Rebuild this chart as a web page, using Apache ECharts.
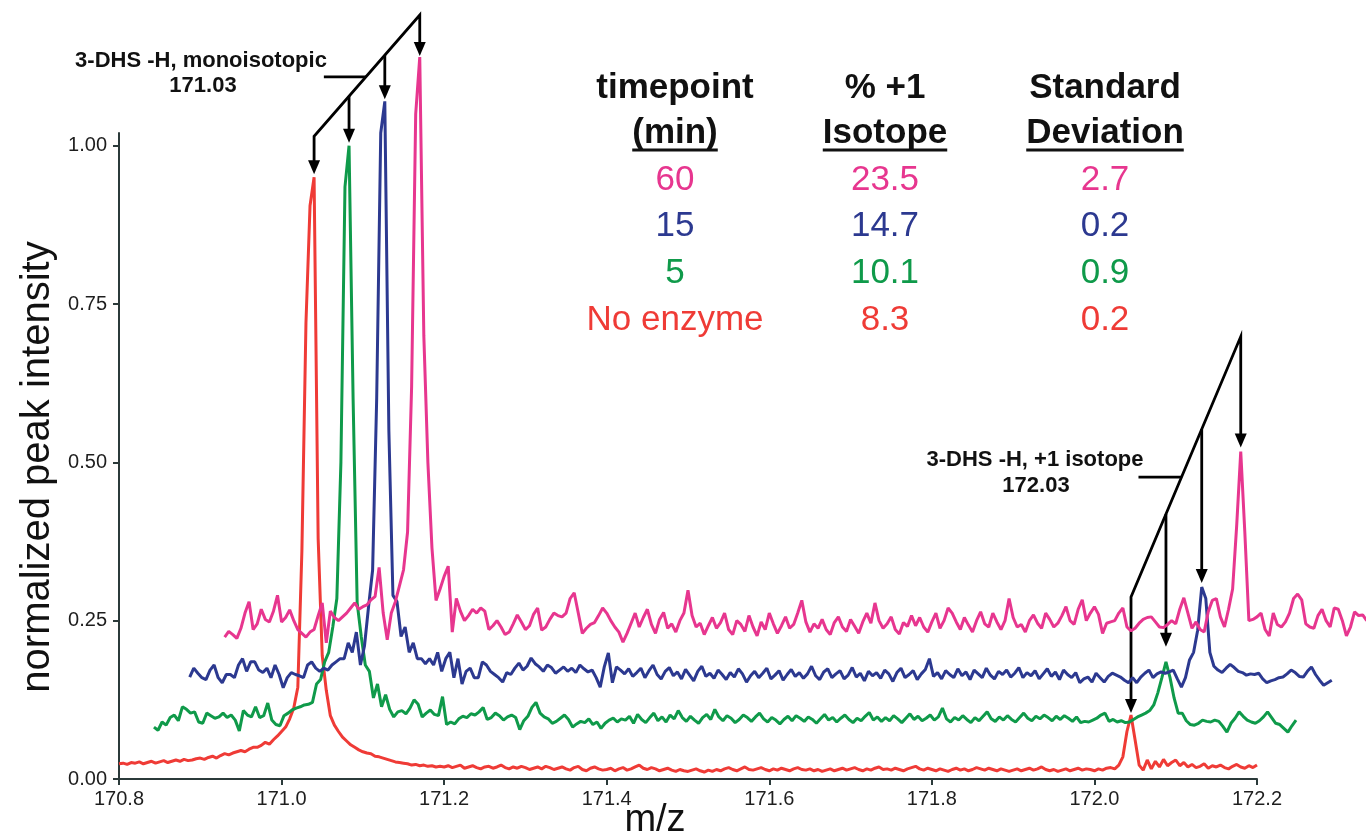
<!DOCTYPE html>
<html>
<head>
<meta charset="utf-8">
<title>3-DHS -H isotope distribution</title>
<script src="https://cdn.jsdelivr.net/npm/echarts@6.0.0/dist/echarts.min.js"></script>
<style>
  html, body { margin: 0; padding: 0; background: #fff; }
  #chart { width: 1366px; height: 840px; }
</style>
</head>
<body>
<div id="chart"></div>
<script>
// every spectrum is sampled on the same m/z step, each trace starts at its own offset
var STEP = 0.005;
var redStart = 170.800, greenStart = 170.843, blueStart = 170.887, pinkStart = 170.930;

// No enzyme
var redY = [
  0.024,0.025,0.023,0.026,0.025,0.027,0.024,0.026,0.028,0.025,
  0.027,0.029,0.026,0.028,0.030,0.028,0.031,0.029,0.030,0.032,
  0.033,0.031,0.034,0.036,0.033,0.037,0.040,0.038,0.041,0.043,
  0.045,0.043,0.047,0.050,0.050,0.053,0.058,0.055,0.062,0.068,
  0.075,0.082,0.095,0.112,0.145,0.360,0.720,0.905,0.950,0.380,
  0.195,0.140,0.100,0.085,0.075,0.066,0.060,0.054,0.050,0.046,
  0.043,0.041,0.040,0.036,0.035,0.033,0.031,0.029,0.027,0.026,
  0.025,0.024,0.022,0.023,0.021,0.022,0.020,0.021,0.019,0.020,
  0.019,0.021,0.018,0.020,0.022,0.017,0.019,0.021,0.018,0.016,
  0.019,0.020,0.017,0.019,0.022,0.018,0.016,0.019,0.017,0.020,
  0.018,0.015,0.017,0.019,0.016,0.020,0.018,0.015,0.017,0.019,
  0.016,0.014,0.018,0.020,0.015,0.013,0.017,0.019,0.016,0.014,
  0.015,0.017,0.013,0.016,0.018,0.014,0.016,0.019,0.022,0.017,
  0.015,0.018,0.016,0.013,0.015,0.017,0.014,0.012,0.015,0.013,
  0.012,0.014,0.016,0.013,0.011,0.014,0.012,0.015,0.013,0.016,
  0.018,0.015,0.013,0.016,0.019,0.015,0.014,0.016,0.018,0.015,
  0.013,0.016,0.014,0.017,0.015,0.013,0.016,0.018,0.015,0.014,
  0.016,0.013,0.015,0.012,0.014,0.016,0.013,0.015,0.017,0.014,
  0.016,0.018,0.015,0.013,0.016,0.014,0.017,0.019,0.015,0.016,
  0.014,0.017,0.015,0.013,0.016,0.018,0.020,0.016,0.014,0.017,
  0.015,0.013,0.016,0.014,0.012,0.015,0.017,0.014,0.016,0.013,
  0.015,0.018,0.016,0.014,0.017,0.015,0.013,0.016,0.014,0.012,
  0.014,0.016,0.013,0.015,0.017,0.014,0.016,0.019,0.015,0.013,
  0.015,0.012,0.014,0.016,0.013,0.015,0.017,0.014,0.016,0.015,
  0.013,0.016,0.014,0.017,0.018,0.016,0.022,0.035,0.075,0.101,
  0.062,0.022,0.014,0.030,0.016,0.028,0.019,0.031,0.021,0.026,
  0.030,0.021,0.026,0.019,0.023,0.018,0.020,0.024,0.017,0.021,
  0.019,0.022,0.018,0.016,0.020,0.023,0.019,0.017,0.021,0.018,
  0.022
];

// 5 min
var greenY = [
  0.082,0.077,0.090,0.085,0.097,0.101,0.092,0.114,0.110,0.104,
  0.106,0.090,0.088,0.104,0.100,0.096,0.098,0.104,0.097,0.101,
  0.093,0.076,0.108,0.101,0.098,0.114,0.097,0.100,0.120,0.093,
  0.086,0.084,0.100,0.104,0.109,0.112,0.114,0.117,0.118,0.121,
  0.150,0.157,0.185,0.200,0.240,0.285,0.500,0.935,1.000,0.600,
  0.278,0.225,0.180,0.170,0.128,0.150,0.114,0.133,0.110,0.098,
  0.106,0.108,0.103,0.112,0.125,0.118,0.098,0.104,0.109,0.102,
  0.100,0.130,0.086,0.090,0.087,0.095,0.099,0.097,0.103,0.101,
  0.106,0.113,0.094,0.097,0.104,0.100,0.093,0.098,0.101,0.097,
  0.078,0.092,0.099,0.113,0.121,0.104,0.098,0.095,0.088,0.091,
  0.096,0.101,0.094,0.082,0.087,0.091,0.089,0.095,0.086,0.090,
  0.080,0.088,0.093,0.096,0.090,0.095,0.093,0.099,0.088,0.102,
  0.094,0.089,0.097,0.104,0.092,0.098,0.090,0.101,0.095,0.108,
  0.097,0.091,0.099,0.093,0.088,0.097,0.102,0.094,0.110,0.098,
  0.092,0.100,0.096,0.089,0.094,0.101,0.097,0.091,0.098,0.104,
  0.095,0.090,0.097,0.093,0.087,0.094,0.099,0.092,0.100,0.096,
  0.091,0.098,0.094,0.088,0.095,0.102,0.093,0.097,0.090,0.096,
  0.101,0.094,0.089,0.096,0.092,0.099,0.105,0.093,0.098,0.091,
  0.097,0.092,0.100,0.095,0.089,0.096,0.103,0.094,0.099,0.092,
  0.096,0.101,0.093,0.098,0.112,0.095,0.090,0.097,0.093,0.100,
  0.094,0.089,0.097,0.092,0.099,0.106,0.095,0.091,0.098,0.093,
  0.100,0.094,0.090,0.097,0.104,0.096,0.092,0.099,0.095,0.101,
  0.097,0.092,0.099,0.094,0.100,0.096,0.091,0.098,0.089,0.091,
  0.090,0.093,0.096,0.101,0.104,0.091,0.094,0.090,0.092,0.089,
  0.090,0.094,0.098,0.101,0.104,0.108,0.117,0.136,0.160,0.185,
  0.160,0.128,0.104,0.104,0.092,0.086,0.085,0.088,0.093,0.091,
  0.090,0.093,0.091,0.083,0.074,0.088,0.096,0.106,0.099,0.093,
  0.090,0.088,0.092,0.098,0.106,0.097,0.088,0.086,0.080,0.074,
  0.084,0.093
];

// 15 min
var blueY = [
  0.161,0.175,0.167,0.160,0.157,0.172,0.180,0.160,0.152,0.165,
  0.165,0.160,0.180,0.190,0.170,0.185,0.185,0.172,0.168,0.175,
  0.160,0.180,0.165,0.144,0.160,0.168,0.165,0.163,0.160,0.180,
  0.185,0.175,0.170,0.175,0.172,0.180,0.185,0.190,0.190,0.215,
  0.200,0.232,0.180,0.210,0.272,0.330,0.600,1.020,1.070,0.550,
  0.290,0.280,0.225,0.240,0.200,0.215,0.190,0.190,0.182,0.190,
  0.180,0.200,0.170,0.190,0.200,0.160,0.190,0.150,0.170,0.175,
  0.160,0.160,0.185,0.180,0.170,0.165,0.160,0.153,0.168,0.165,
  0.175,0.183,0.172,0.178,0.191,0.182,0.177,0.170,0.180,0.176,
  0.167,0.172,0.177,0.170,0.175,0.168,0.180,0.174,0.169,0.172,
  0.160,0.145,0.177,0.199,0.152,0.177,0.172,0.166,0.174,0.162,
  0.168,0.175,0.160,0.171,0.180,0.165,0.158,0.170,0.176,0.163,
  0.169,0.158,0.173,0.164,0.155,0.170,0.178,0.162,0.167,0.159,
  0.172,0.165,0.157,0.168,0.161,0.174,0.166,0.153,0.163,0.170,
  0.160,0.167,0.175,0.158,0.164,0.171,0.156,0.165,0.173,0.162,
  0.168,0.159,0.166,0.178,0.163,0.157,0.169,0.174,0.160,0.166,
  0.171,0.158,0.164,0.176,0.161,0.167,0.155,0.170,0.163,0.168,
  0.159,0.172,0.166,0.154,0.168,0.175,0.160,0.165,0.171,0.157,
  0.166,0.173,0.190,0.162,0.168,0.158,0.171,0.165,0.160,0.174,
  0.163,0.169,0.157,0.172,0.166,0.160,0.175,0.164,0.158,0.170,
  0.165,0.172,0.161,0.167,0.176,0.160,0.168,0.163,0.171,0.158,
  0.166,0.174,0.162,0.169,0.157,0.172,0.165,0.160,0.168,0.152,
  0.158,0.161,0.153,0.167,0.160,0.153,0.162,0.167,0.164,0.161,
  0.156,0.152,0.160,0.152,0.161,0.167,0.172,0.160,0.166,0.169,
  0.167,0.169,0.172,0.158,0.145,0.160,0.188,0.200,0.235,0.303,
  0.285,0.200,0.178,0.172,0.168,0.175,0.181,0.176,0.170,0.168,
  0.164,0.166,0.165,0.167,0.158,0.152,0.155,0.157,0.160,0.161,
  0.166,0.172,0.168,0.162,0.161,0.170,0.177,0.165,0.156,0.148,
  0.152,0.156
];

// 60 min
var pinkY = [
  0.224,0.233,0.228,0.222,0.238,0.262,0.280,0.236,0.245,0.268,
  0.252,0.248,0.265,0.290,0.248,0.255,0.267,0.250,0.236,0.230,
  0.224,0.232,0.236,0.258,0.278,0.215,0.265,0.255,0.250,0.256,
  0.262,0.270,0.278,0.268,0.272,0.275,0.283,0.288,0.334,0.262,
  0.220,0.262,0.280,0.305,0.330,0.390,0.620,1.050,1.140,0.700,
  0.500,0.365,0.282,0.300,0.320,0.336,0.232,0.285,0.265,0.250,
  0.258,0.268,0.262,0.270,0.265,0.236,0.242,0.250,0.240,0.228,
  0.232,0.245,0.259,0.248,0.236,0.242,0.260,0.270,0.235,0.240,
  0.252,0.262,0.258,0.256,0.262,0.285,0.294,0.262,0.230,0.238,
  0.244,0.247,0.258,0.270,0.262,0.250,0.240,0.232,0.216,0.230,
  0.246,0.262,0.240,0.255,0.268,0.244,0.230,0.252,0.263,0.238,
  0.245,0.232,0.250,0.262,0.298,0.258,0.240,0.246,0.228,0.242,
  0.255,0.238,0.247,0.262,0.236,0.228,0.250,0.244,0.233,0.258,
  0.240,0.226,0.248,0.236,0.262,0.245,0.230,0.242,0.256,0.238,
  0.244,0.262,0.282,0.248,0.232,0.245,0.238,0.252,0.236,0.228,
  0.247,0.256,0.240,0.233,0.252,0.241,0.230,0.248,0.262,0.246,
  0.278,0.250,0.238,0.245,0.256,0.236,0.229,0.247,0.241,0.258,
  0.242,0.255,0.240,0.232,0.248,0.262,0.238,0.250,0.270,0.262,
  0.248,0.236,0.255,0.243,0.232,0.250,0.264,0.245,0.240,0.262,
  0.248,0.236,0.250,0.285,0.255,0.240,0.244,0.232,0.250,0.259,
  0.246,0.238,0.262,0.252,0.240,0.246,0.258,0.272,0.250,0.244,
  0.268,0.283,0.250,0.262,0.272,0.260,0.230,0.246,0.248,0.250,
  0.262,0.270,0.240,0.234,0.238,0.246,0.252,0.255,0.256,0.248,
  0.240,0.239,0.244,0.250,0.245,0.268,0.286,0.262,0.238,0.248,
  0.236,0.232,0.264,0.282,0.285,0.256,0.240,0.268,0.300,0.400,
  0.517,0.390,0.250,0.252,0.256,0.262,0.236,0.226,0.262,0.244,
  0.240,0.248,0.262,0.285,0.292,0.283,0.245,0.240,0.238,0.258,
  0.268,0.250,0.240,0.270,0.268,0.250,0.226,0.240,0.264,0.258,
  0.259,0.250
];

// index of the monoisotopic and +1 peak tops in each trace (red, green, blue, pink)
var monoPeakIdx = [48, 48, 48, 48];
var isoPeakIdx = [249, 249, 249, 250];

var xMin = 170.8, xMax = 172.2;
var yMin = 0, yMax = 1.02;
var yTicks = [0, 0.25, 0.5, 0.75, 1.0];

// table in the upper right
var tableHeadTop = ['timepoint', '% +1', 'Standard'];
var tableHeadBottom = ['(min)', 'Isotope', 'Deviation'];
var timepoints = ['60', '15', '5', 'No enzyme'];
var pctIsotope = ['23.5', '14.7', '10.1', '8.3'];
var stdDev = ['2.7', '0.2', '0.9', '0.2'];

var RED = '#ef3b36', GREEN = '#0f9a4a', BLUE = '#2c3990', PINK = '#e7368f';
var rowColors = [PINK, BLUE, GREEN, RED];
var FONT = '"Liberation Sans", Arial, Helvetica, sans-serif';
var AXIS = '#2b3a3a';

var W = 1366, GL = 119, GR = 109, GT = 133, GB = 61;
// the traces run past the last tick, so they sit on a wider hidden grid with the same scale
var pxPerUnit = (W - GL - GR) / (xMax - xMin);
var xMaxWide = xMin + (W - GL) / pxPerUnit;

function toPairs(start, ys) {
  return ys.map(function (v, i) { return [+(start + i * STEP).toFixed(4), v]; });
}

function trace(name, start, ys, color) {
  return {
    name: name,
    type: 'line',
    xAxisIndex: 1,
    yAxisIndex: 1,
    data: toPairs(start, ys),
    symbol: 'none',
    clip: false,
    lineStyle: { color: color, width: 3 },
    itemStyle: { color: color }
  };
}

var chart = echarts.init(document.getElementById('chart'));

var option = {
  animation: false,
  backgroundColor: '#ffffff',
  grid: [
    { left: GL, right: GR, top: GT, bottom: GB },
    { left: GL, right: 0, top: GT, bottom: GB }
  ],
  xAxis: [{
    type: 'value',
    gridIndex: 0,
    min: xMin,
    max: xMax,
    interval: 0.2,
    axisLine: { onZero: false, lineStyle: { color: AXIS, width: 2 } },
    axisTick: { length: 6, lineStyle: { color: AXIS, width: 2 } },
    axisLabel: {
      margin: 10, fontSize: 20, color: '#1e1e1e', fontFamily: FONT,
      formatter: function (v) { return v.toFixed(1); }
    },
    splitLine: { show: false }
  }, {
    type: 'value',
    gridIndex: 1,
    min: xMin,
    max: xMaxWide,
    show: false
  }],
  yAxis: [{
    type: 'value',
    gridIndex: 0,
    min: yMin,
    max: yMax,
    interval: 0.25,
    axisLine: { show: true, onZero: false, lineStyle: { color: AXIS, width: 2 } },
    axisTick: { show: true, length: 6, customValues: yTicks, lineStyle: { color: AXIS, width: 2 } },
    axisLabel: {
      margin: 12, fontSize: 20, color: '#1e1e1e', fontFamily: FONT, customValues: yTicks,
      formatter: function (v) { return v.toFixed(2); }
    },
    splitLine: { show: false }
  }, {
    type: 'value',
    gridIndex: 1,
    min: yMin,
    max: yMax,
    show: false
  }],
  series: [
    trace('No enzyme', redStart, redY, RED),
    trace('5', greenStart, greenY, GREEN),
    trace('15', blueStart, blueY, BLUE),
    trace('60', pinkStart, pinkY, PINK)
  ]
};
chart.setOption(option);

// ---- annotations ----
var starts = [redStart, greenStart, blueStart, pinkStart];
var traces = [redY, greenY, blueY, pinkY];

function peakPx(i, k) {
  return chart.convertToPixel({ xAxisIndex: 1, yAxisIndex: 1 }, [starts[i] + k * STEP, traces[i][k]]);
}

function seg(x1, y1, x2, y2) {
  return { type: 'line', shape: { x1: x1, y1: y1, x2: x2, y2: y2 },
    style: { stroke: '#000', lineWidth: 2.8 } };
}

function arrowHead(x, y) {
  return { type: 'polygon', shape: { points: [[x - 6, y - 14], [x + 6, y - 14], [x, y]] },
    style: { fill: '#000' } };
}

// diagonal bracket with a down arrow to each of the four peaks
function bracket(idx, redLift, pinkLift, gaps, leaderFrac, leaderLen) {
  var tips = idx.map(function (k, i) { return peakPx(i, k); });
  var x1 = tips[0][0], y1 = tips[0][1] - redLift;
  var x2 = tips[3][0], y2 = tips[3][1] - pinkLift;
  var els = [];
  els.push({
    type: 'polyline',
    shape: { points: [[x1, tips[0][1] - gaps[0] - 11], [x1, y1], [x2, y2], [x2, tips[3][1] - gaps[3] - 11]] },
    style: { stroke: '#000', lineWidth: 2.8, fill: null, lineJoin: 'miter' }
  });
  [1, 2].forEach(function (i) {
    var x = tips[i][0];
    var top = y1 + (x - x1) * (y2 - y1) / (x2 - x1);
    els.push(seg(x, top, x, tips[i][1] - gaps[i] - 11));
  });
  tips.forEach(function (t, i) { els.push(arrowHead(t[0], t[1] - gaps[i])); });
  var px = x1 + leaderFrac * (x2 - x1), py = y1 + leaderFrac * (y2 - y1);
  els.push(seg(px - leaderLen, py, px, py));
  return els;
}

function label(s, x, y, font, color) {
  return { type: 'text', x: x, y: y,
    style: { text: s, font: font, fill: color, textAlign: 'center', textVerticalAlign: 'middle',
      align: 'center', verticalAlign: 'middle' } };
}

var measureCtx = document.createElement('canvas').getContext('2d');
function textWidth(s, font) { measureCtx.font = font; return measureCtx.measureText(s).width; }

var annFont = 'bold 22px ' + FONT;
var headFont = 'bold 35px ' + FONT;
var rowFont = '35px ' + FONT;
var colX = [675, 885, 1105];
var rowY = [180, 226, 273, 320];

var graphics = [];
graphics = graphics.concat(bracket(monoPeakIdx, 41, 42, [3, 3, 2, 1], 0.49, 42));
graphics = graphics.concat(bracket(isoPeakIdx, 118, 115, [2, 15, 4, 4], 0.46, 43));

graphics.push(label('3-DHS -H, monoisotopic', 201, 61, annFont, '#111'));
graphics.push(label('171.03', 203, 86, annFont, '#111'));
graphics.push(label('3-DHS -H, +1 isotope', 1035, 460, annFont, '#111'));
graphics.push(label('172.03', 1036, 486, annFont, '#111'));

colX.forEach(function (x, c) {
  graphics.push(label(tableHeadTop[c], x, 88, headFont, '#111'));
  graphics.push(label(tableHeadBottom[c], x, 133, headFont, '#111'));
  var w = textWidth(tableHeadBottom[c], headFont);
  graphics.push({ type: 'line', shape: { x1: x - w / 2, y1: 150, x2: x + w / 2, y2: 150 },
    style: { stroke: '#111', lineWidth: 3 } });
});
timepoints.forEach(function (t, r) {
  graphics.push(label(t, colX[0], rowY[r], rowFont, rowColors[r]));
  graphics.push(label(pctIsotope[r], colX[1], rowY[r], rowFont, rowColors[r]));
  graphics.push(label(stdDev[r], colX[2], rowY[r], rowFont, rowColors[r]));
});

// axis titles
graphics.push({ type: 'text', x: 38, y: 467, rotation: Math.PI / 2,
  style: { text: 'normalized peak intensity', font: '40px ' + FONT, fill: '#111',
    textAlign: 'center', textVerticalAlign: 'middle', align: 'center', verticalAlign: 'middle' } });
graphics.push(label('m/z', 655, 821, '38px ' + FONT, '#111'));

chart.setOption({ graphic: { elements: graphics } });
</script>
</body>
</html>
